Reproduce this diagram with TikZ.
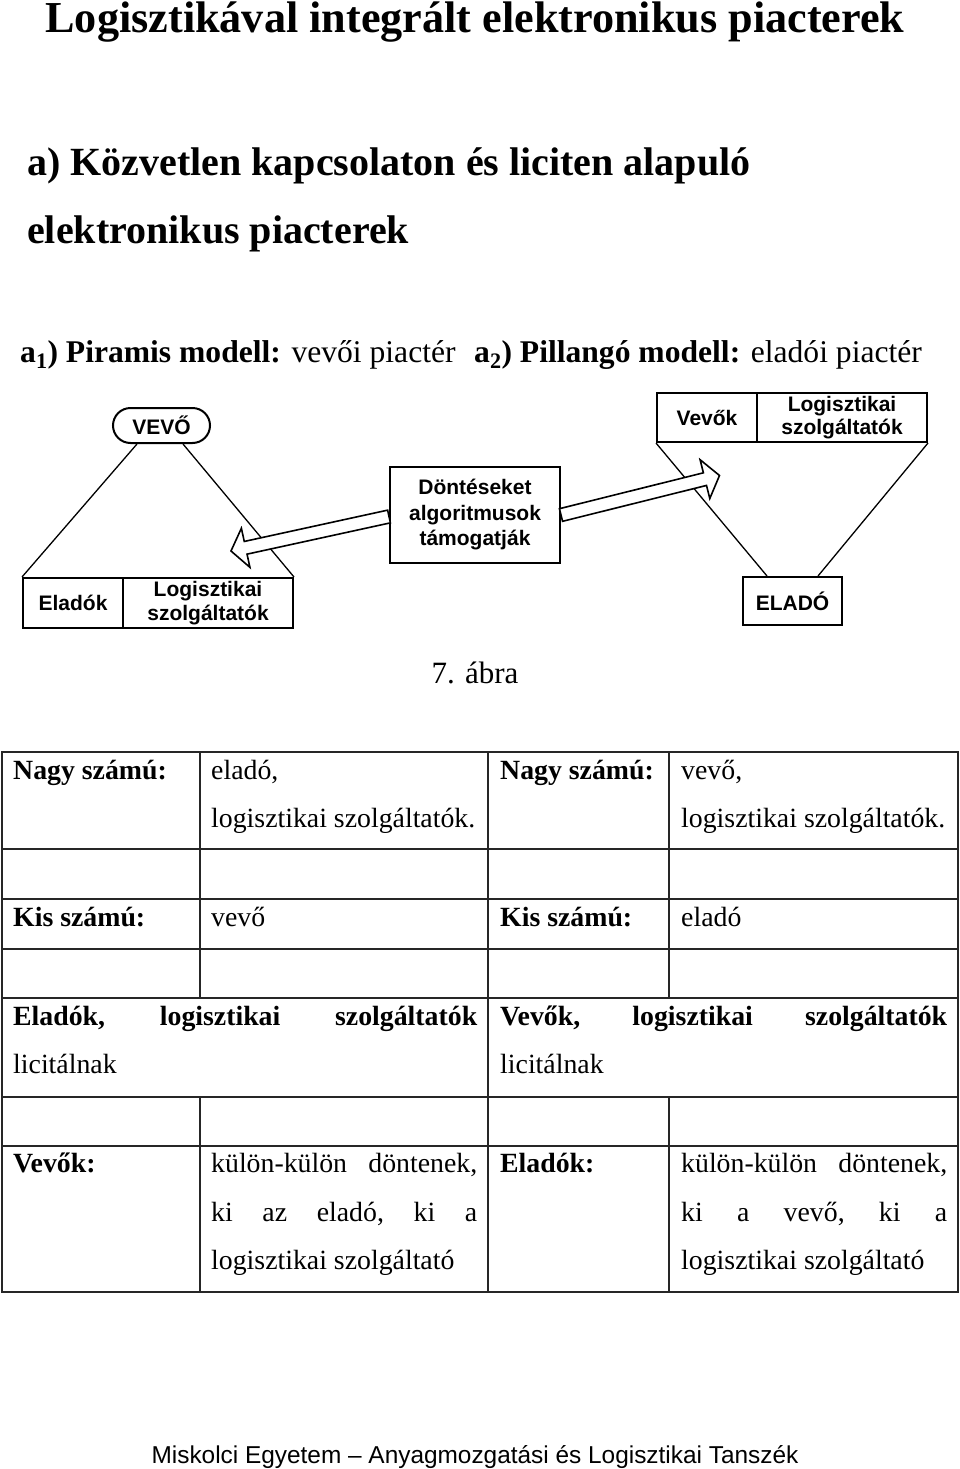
\documentclass[tikz,border=0pt]{standalone}
\usepackage{fontspec}
\setmainfont{Liberation Serif}
\newfontfamily\diagsans{Liberation Sans}
\usetikzlibrary{calc,shapes.misc}
\begin{document}
\begin{tikzpicture}[x=1pt,y=-1pt,
 dbox/.style={draw,line width=2pt,fill=white,inner sep=0pt,align=center,font=\diagsans\bfseries\fontsize{21}{23.5}\selectfont},
 conn/.style={line width=1.3pt},
 harrow/.style={line width=1.6pt,fill=white,line join=miter},
 tbl/.style={line width=1.4pt,draw=black!85},
 txt/.style={anchor=base west,inner sep=0pt,font=\fontsize{27.8}{48}\selectfont},
 btxt/.style={anchor=base west,inner sep=0pt,font=\bfseries\fontsize{27.8}{48}\selectfont},
 mtxt/.style={anchor=base west,inner sep=0pt,font=\fontsize{31.6}{36}\selectfont},
 subt/.style={anchor=base west,inner sep=0pt,font=\bfseries\fontsize{40}{46}\selectfont},
]
\useasboundingbox (0,0) rectangle (960,1469);
\fill[white] (0,0) rectangle (960,1469);

% headings
\node[anchor=base,inner sep=0pt,font=\bfseries\fontsize{44.2}{50}\selectfont] (title) at (475,33) {Logisztikával integrált elektronikus piacterek};
\node[subt] (sub1) at (27,175) {a) Közvetlen kapcsolaton és liciten alapuló};
\node[subt] (sub2) at (27,243) {elektronikus piacterek};
\node[mtxt] (m1) at (20,362) {\textbf{a\textsubscript{1}) Piramis modell:} vevői piactér};
\node[mtxt] (m2) at (474,362) {\textbf{a\textsubscript{2}) Pillangó modell:} eladói piactér};

% diagram boxes
\node[dbox,rounded rectangle,minimum width=97pt,minimum height=35pt] (vevo) at (161.5,425.5) {VEVŐ};
\node[dbox,minimum width=100pt,minimum height=50pt] (eladok) at (73,603) {Eladók};
\node[dbox,minimum width=170pt,minimum height=50pt] (logL) at (208,603) {Logisztikai\\szolgáltatók};
\node[dbox,minimum width=170pt,minimum height=96pt,font=\diagsans\bfseries\fontsize{21}{25.5}\selectfont] (dont) at (475,515) {Döntéseket\\algoritmusok\\támogatják};
\node[dbox,minimum width=100pt,minimum height=49pt] (vevok) at (707,417.5) {Vevők};
\node[dbox,minimum width=170pt,minimum height=49pt] (logR) at (842,417.5) {Logisztikai\\szolgáltatók};
\node[dbox,minimum width=99pt,minimum height=48pt] (elado) at (792.5,601) {ELADÓ};

% pyramid lines
\draw[conn] ([xshift=-24.5pt]vevo.south) -- (eladok.north west);
\draw[conn] ([xshift=21.5pt]vevo.south) -- (logL.north east);
\draw[conn] (vevok.south west) -- ([xshift=-25.5pt]elado.north);
\draw[conn] (logR.south east) -- ([xshift=25.5pt]elado.north);

% hollow arrows
\coordinate (lA) at ([yshift=-1.5pt]dont.west);
\coordinate (la) at (231,551);
\coordinate (lb) at ($(la)!15pt!(lA)$);
\draw[harrow] ($(lA)!6.5pt!90:(la)$) -- ($(lb)!6.5pt!90:(la)$) -- ($(lb)!20pt!90:(la)$) -- (la) -- ($(lb)!20pt!-90:(la)$) -- ($(lb)!6.5pt!-90:(la)$) -- ($(lA)!6.5pt!-90:(la)$) -- cycle;
\coordinate (rA) at (dont.east);
\coordinate (ra) at (719.5,475.5);
\coordinate (rb) at ($(ra)!15pt!(rA)$);
\draw[harrow] ($(rA)!6.5pt!90:(ra)$) -- ($(rb)!6.5pt!90:(ra)$) -- ($(rb)!20pt!90:(ra)$) -- (ra) -- ($(rb)!20pt!-90:(ra)$) -- ($(rb)!6.5pt!-90:(ra)$) -- ($(rA)!6.5pt!-90:(ra)$) -- cycle;

\node[anchor=base,inner sep=0pt,font=\fontsize{31}{36}\selectfont] (cap) at (475,683) {7. ábra};

% table
\draw[tbl] (2,752) rectangle (958,1292);
\foreach \y in {849,899,949,998,1097,1146} \draw[tbl] (2,\y) -- (958,\y);
\draw[tbl] (488,752) -- (488,1292);
\foreach \x in {200,669} {\draw[tbl] (\x,752) -- (\x,998); \draw[tbl] (\x,1097) -- (\x,1292);}

\node[btxt] (r1a) at (13,779) {Nagy számú:};
\node[txt] (r1b) at (211,779) {eladó,};
\node[txt] (r1b2) at (211,827) {logisztikai szolgáltatók.};
\node[btxt] (r1c) at (500,779) {Nagy számú:};
\node[txt] (r1d) at (681,779) {vevő,};
\node[txt] (r1d2) at (681,827) {logisztikai szolgáltatók.};
\node[btxt] (r3a) at (13,926) {Kis számú:};
\node[txt] (r3b) at (211,926) {vevő};
\node[btxt] (r3c) at (500,926) {Kis számú:};
\node[txt] (r3d) at (681,926) {eladó};
\node[btxt] (r5a) at (13,1025) {\makebox[464pt][l]{Eladók,\hfill logisztikai\hfill szolgáltatók}};
\node[txt] (r5a2) at (13,1073) {licitálnak};
\node[btxt] (r5b) at (500,1025) {\makebox[447pt][l]{Vevők,\hfill logisztikai\hfill szolgáltatók}};
\node[txt] (r5b2) at (500,1073) {licitálnak};
\node[btxt] (r7a) at (13,1172) {Vevők:};
\node[txt] (r7b1) at (211,1172) {\makebox[266pt][l]{külön-külön\hfill döntenek,}};
\node[txt] (r7b2) at (211,1221) {\makebox[266pt][l]{ki\hfill az\hfill eladó,\hfill ki\hfill a}};
\node[txt] (r7b3) at (211,1269) {logisztikai szolgáltató};
\node[btxt] (r7c) at (500,1172) {Eladók:};
\node[txt] (r7d1) at (681,1172) {\makebox[266pt][l]{külön-külön\hfill döntenek,}};
\node[txt] (r7d2) at (681,1221) {\makebox[266pt][l]{ki\hfill a\hfill vevő,\hfill ki\hfill a}};
\node[txt] (r7d3) at (681,1269) {logisztikai szolgáltató};

\node[anchor=base,inner sep=0pt,font=\diagsans\fontsize{24.4}{28}\selectfont] (foot) at (475,1463) {Miskolci Egyetem – Anyagmozgatási és Logisztikai Tanszék};
\end{tikzpicture}
\end{document}
